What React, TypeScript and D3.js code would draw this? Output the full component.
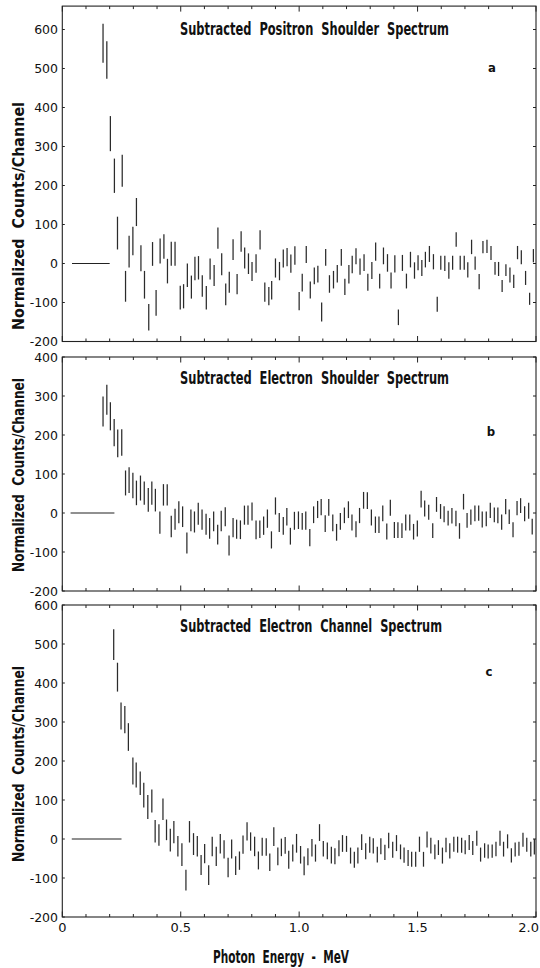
import * as d3 from "d3";
import { useRef, useEffect } from "react";

// [energy MeV, low, high] for each channel
const positronShoulder = [
  [0.172, 515, 615], [0.188, 474, 570], [0.203, 288, 378], [0.220, 181, 269], [0.233, 36, 120], [0.253, 197, 279],
  [0.267, -98, -19], [0.282, -10, 71], [0.298, 21, 94], [0.313, 96, 168], [0.332, -20, 47], [0.347, -90, -19],
  [0.365, -172, -104], [0.381, -6, 55], [0.396, -134, -68], [0.413, 0, 64], [0.429, 12, 75], [0.444, -51, 12],
  [0.460, -6, 56], [0.476, -6, 56], [0.498, -118, -57], [0.512, -115, -53], [0.528, -60, 0], [0.545, -90, -31],
  [0.560, -43, 17], [0.575, -41, 19], [0.591, -85, -30], [0.608, -118, -58], [0.624, -41, 13], [0.641, -58, -4],
  [0.657, 38, 92], [0.673, -30, 26], [0.690, -107, -51], [0.705, -75, -21], [0.721, 9, 62], [0.738, -79, -27],
  [0.755, 30, 83], [0.770, -13, 41], [0.786, -27, 26], [0.801, -45, 4], [0.818, -24, 24], [0.835, 36, 85],
  [0.855, -98, -49], [0.872, -107, -60], [0.884, -92, -45], [0.900, -36, 13], [0.917, -43, 4], [0.933, -10, 36],
  [0.949, -7, 40], [0.965, -24, 23], [0.982, -3, 44], [1.000, -120, -73], [1.013, -72, -26], [1.030, 1, 45],
  [1.047, -90, -46], [1.064, -53, -10], [1.079, -49, -6], [1.095, -149, -100], [1.112, -6, 37], [1.128, -75, -30],
  [1.145, -64, -19], [1.161, -49, -4], [1.178, -6, 37], [1.193, -81, -39], [1.210, -51, -4], [1.224, -25, 20],
  [1.240, -2, 39], [1.257, -29, 13], [1.274, -19, 24], [1.290, -70, -26], [1.307, -40, 4], [1.323, 7, 54],
  [1.340, -64, -26], [1.356, -2, 41], [1.373, -21, 24], [1.388, -64, -23], [1.404, -23, 21], [1.419, -158, -118],
  [1.436, -19, 22], [1.453, -64, -26], [1.470, -10, 30], [1.487, -39, 3], [1.502, -17, 21], [1.518, -32, 9],
  [1.533, -10, 30], [1.550, 4, 45], [1.567, -15, 24], [1.583, -124, -85], [1.598, -16, 20], [1.615, -19, 20],
  [1.632, -39, 3], [1.648, -16, 20], [1.663, 43, 80], [1.680, -16, 20], [1.697, -16, 20], [1.712, -36, 3],
  [1.728, 24, 61], [1.743, -16, 18], [1.760, -66, -27], [1.776, 26, 58], [1.793, 27, 61], [1.810, 9, 45],
  [1.827, -29, 4], [1.842, -32, 4], [1.857, -73, -42], [1.873, -32, -2], [1.890, -49, -10], [1.906, -63, -29],
  [1.922, 11, 45], [1.938, -2, 34], [1.956, -55, -19], [1.973, -106, -75], [1.989, 3, 37],
];

const electronShoulder = [
  [0.172, 222, 299], [0.188, 252, 329], [0.203, 212, 284], [0.219, 171, 241], [0.234, 143, 214], [0.251, 147, 215],
  [0.267, 45, 109], [0.282, 51, 117], [0.298, 38, 103], [0.313, 20, 83], [0.330, 32, 96], [0.346, 21, 81],
  [0.363, 3, 64], [0.378, 21, 81], [0.393, 4, 62], [0.412, -53, 4], [0.427, 19, 74], [0.443, 19, 74],
  [0.460, -62, -7], [0.476, -43, 11], [0.492, -26, 30], [0.508, -36, 17], [0.526, -104, -50], [0.543, -47, 9],
  [0.558, -50, 4], [0.574, -30, 26], [0.590, -43, 9], [0.607, -56, -2], [0.622, -66, -13], [0.639, -47, 4],
  [0.656, -81, -30], [0.671, -47, 6], [0.688, -34, 15], [0.704, -109, -58], [0.721, -62, -13], [0.736, -66, -17],
  [0.752, -67, -19], [0.769, -30, 19], [0.784, -30, 19], [0.801, -19, 27], [0.818, -67, -19], [0.834, -64, -19],
  [0.850, -56, -9], [0.866, -38, 9], [0.883, -91, -47], [0.900, -4, 40], [0.916, -49, 0], [0.933, -56, -10],
  [0.948, -32, 13], [0.963, -81, -38], [0.980, -43, 3], [0.997, -41, 4], [1.013, -43, 0], [1.028, -43, 4],
  [1.045, -85, -41], [1.061, -26, 17], [1.078, -13, 31], [1.093, -6, 36], [1.110, -49, -6], [1.125, -7, 36],
  [1.142, -47, -4], [1.158, -71, -28], [1.174, -43, 0], [1.191, -26, 14], [1.208, -13, 30], [1.223, -45, -4],
  [1.240, -62, -21], [1.255, -26, 13], [1.272, 11, 54], [1.288, 10, 53], [1.305, -32, 9], [1.322, -51, -9],
  [1.337, -51, -9], [1.353, -21, 19], [1.370, -68, -27], [1.385, -7, 34], [1.402, -64, -23], [1.417, -64, -24],
  [1.434, -64, -26], [1.450, -45, -4], [1.467, -45, -4], [1.483, -68, -28], [1.499, -60, -19], [1.515, 14, 57],
  [1.530, -9, 32], [1.547, -17, 21], [1.564, -64, -26], [1.580, 3, 41], [1.597, -15, 23], [1.612, -24, 17],
  [1.629, -32, 6], [1.645, -27, 13], [1.662, -34, 6], [1.677, -66, -26], [1.694, 9, 49], [1.709, -38, 0],
  [1.725, -30, 9], [1.742, -21, 19], [1.758, -20, 19], [1.773, -37, 4], [1.790, -34, 4], [1.807, -13, 26],
  [1.824, -24, 14], [1.839, -26, 14], [1.855, -43, -4], [1.872, -3, 36], [1.887, -28, 9], [1.903, -62, -24],
  [1.920, -6, 31], [1.935, 0, 38], [1.952, -21, 17], [1.969, -15, 26], [1.984, -55, -15],
];

const electronChannel = [
  [0.217, 459, 538], [0.233, 378, 452], [0.248, 281, 350], [0.264, 271, 341], [0.279, 226, 297], [0.298, 140, 209],
  [0.312, 132, 196], [0.329, 113, 173], [0.344, 81, 144], [0.361, 51, 113], [0.378, 68, 127], [0.392, -9, 49],
  [0.408, -17, 38], [0.425, 49, 104], [0.440, -3, 50], [0.456, -32, 26], [0.471, -11, 46], [0.488, -45, 8],
  [0.505, -69, -11], [0.522, -132, -79], [0.537, -9, 46], [0.554, -41, 15], [0.570, -45, 8], [0.586, -92, -41],
  [0.601, -62, -13], [0.618, -118, -67], [0.633, -44, 6], [0.650, -69, -20], [0.667, -37, 13], [0.683, -50, -3],
  [0.700, -98, -48], [0.715, -50, -1], [0.732, -92, -44], [0.748, -79, -32], [0.763, -38, 9], [0.780, -4, 43],
  [0.795, -30, 17], [0.812, -44, 6], [0.828, -78, -32], [0.844, -43, 3], [0.861, -43, 2], [0.876, -82, -37],
  [0.893, -18, 30], [0.910, -67, -22], [0.925, -44, 1], [0.941, -38, 5], [0.956, -76, -30], [0.973, -58, -14],
  [0.989, -35, 13], [1.006, -63, -18], [1.021, -93, -45], [1.037, -67, -24], [1.054, -45, 0], [1.069, -58, -14],
  [1.086, -5, 38], [1.102, -45, -5], [1.119, -52, -9], [1.136, -63, -20], [1.151, -65, -24], [1.168, -44, -3],
  [1.183, -33, 10], [1.200, -33, 8], [1.217, -63, -22], [1.233, -74, -33], [1.248, -63, -22], [1.264, -28, 12],
  [1.281, -52, -11], [1.298, -35, 6], [1.313, -37, 2], [1.330, -60, -20], [1.345, -39, 2], [1.362, -54, -15],
  [1.378, -24, 16], [1.395, -48, -7], [1.411, -31, 10], [1.428, -52, -14], [1.443, -61, -22], [1.460, -69, -28],
  [1.475, -71, -33], [1.492, -71, -33], [1.508, -33, 6], [1.525, -71, -33], [1.540, -22, 19], [1.556, -37, 3],
  [1.573, -52, -14], [1.588, -41, -3], [1.605, -63, -22], [1.620, -34, 3], [1.636, -50, -11], [1.653, -33, 6],
  [1.669, -35, 6], [1.686, -35, 3], [1.701, -39, -3], [1.718, -28, 10], [1.733, -41, -5], [1.750, -17, 21],
  [1.766, -58, -22], [1.783, -48, -11], [1.798, -50, -14], [1.815, -48, -14], [1.831, -44, -7], [1.848, -17, 21],
  [1.863, -45, -7], [1.880, -24, 12], [1.896, -60, -24], [1.912, -45, -9], [1.928, -43, -7], [1.945, -20, 16],
  [1.961, -33, 3], [1.978, -45, -7], [1.993, -40, 0],
];

// flat zero segment below threshold [from, to] MeV
const positronZero = [0.041, 0.2];
const electronZero = [0.035, 0.22];
const channelZero = [0.04, 0.25];

const titles = [
  "Subtracted  Positron  Shoulder  Spectrum",
  "Subtracted  Electron  Shoulder  Spectrum",
  "Subtracted  Electron  Channel  Spectrum",
];
const letters = ["a", "b", "c"];
const yTicksA = [-200, -100, 0, 100, 200, 300, 400, 500, 600];
const yTicksB = [-200, -100, 0, 100, 200, 300, 400];
const yTicksC = [-200, -100, 0, 100, 200, 300, 400, 500, 600];
const xTickLabels = [0, 0.5, 1.0, 1.5, 2.0];

const W = 540, H = 968;
const ink = "#222";
const narrow = "'Liberation Sans Narrow', 'DejaVu Sans Condensed', 'Roboto Condensed', sans-serif";
const plain = "'DejaVu Sans', 'Liberation Sans', sans-serif";

function App() {
  const ref = useRef(null);

  useEffect(() => {
    const svg = d3.select(ref.current);
    svg.selectAll("*").remove();

    const x = d3.scaleLinear().domain([0, 2]).range([62.3, 536]);

    const layout = [
      { data: positronShoulder, zero: positronZero, ticks: yTicksA, dom: [-200, 660], rng: [341.5, 6.1],
        titleY: 35, titleLen: 269, letterX: 492, letterY: 72, ytY: 216, ytLen: 228 },
      { data: electronShoulder, zero: electronZero, ticks: yTicksB, dom: [-200, 400], rng: [591, 357],
        titleY: 384, titleLen: 269, letterX: 491, letterY: 436, ytY: 475, ytLen: 194 },
      { data: electronChannel, zero: channelZero, ticks: yTicksC, dom: [-200, 600], rng: [917, 605],
        titleY: 632, titleLen: 262, letterX: 489, letterY: 676, ytY: 764, ytLen: 196 },
    ];

    layout.forEach((p, i) => {
      const y = d3.scaleLinear().domain(p.dom).range(p.rng);
      const g = svg.append("g");
      const top = y(p.dom[1]), bot = y(p.dom[0]);
      const x0 = x(0), x1 = x(2);

      // frame
      g.append("rect")
        .attr("x", x0).attr("y", top)
        .attr("width", x1 - x0).attr("height", bot - top)
        .attr("fill", "none").attr("stroke", ink).attr("stroke-width", 1.1);

      // x ticks, inward on top and bottom
      const minor = x.ticks(20);
      const major = x.ticks(4);
      minor.forEach((t) => {
        const len = major.some((m) => Math.abs(m - t) < 1e-6) ? 5.5 : 3;
        g.append("line").attr("x1", x(t)).attr("x2", x(t)).attr("y1", bot).attr("y2", bot - len)
          .attr("stroke", ink).attr("stroke-width", 1);
        g.append("line").attr("x1", x(t)).attr("x2", x(t)).attr("y1", top).attr("y2", top + len)
          .attr("stroke", ink).attr("stroke-width", 1);
      });

      // y ticks inward on both sides + labels at left
      p.ticks.forEach((t) => {
        g.append("line").attr("x1", x0).attr("x2", x0 + 2.5).attr("y1", y(t)).attr("y2", y(t))
          .attr("stroke", ink).attr("stroke-width", 1);
        g.append("line").attr("x1", x1).attr("x2", x1 - 3).attr("y1", y(t)).attr("y2", y(t))
          .attr("stroke", ink).attr("stroke-width", 1);
        g.append("text")
          .attr("x", 58).attr("y", y(t)).attr("dy", "0.36em")
          .attr("text-anchor", "end")
          .style("font-family", plain).style("font-size", "12.5px")
          .attr("fill", "#111")
          .text(t);
      });

      // zero segment
      g.append("line")
        .attr("x1", x(p.zero[0])).attr("x2", x(p.zero[1]))
        .attr("y1", y(0)).attr("y2", y(0))
        .attr("stroke", ink).attr("stroke-width", 1.1);

      // error bars
      g.selectAll("line.bar")
        .data(p.data)
        .enter()
        .append("line")
        .attr("class", "bar")
        .attr("x1", (d) => x(d[0])).attr("x2", (d) => x(d[0]))
        .attr("y1", (d) => y(d[1])).attr("y2", (d) => y(d[2]))
        .attr("stroke", "#2b2b2b").attr("stroke-width", 1.25);

      // title
      g.append("text")
        .attr("x", 180).attr("y", p.titleY)
        .attr("textLength", p.titleLen).attr("lengthAdjust", "spacingAndGlyphs")
        .style("font-family", narrow).style("font-size", "17px").style("font-weight", "bold")
        .style("white-space", "pre")
        .attr("fill", "#111")
        .text(titles[i]);

      // panel letter
      g.append("text")
        .attr("x", p.letterX).attr("y", p.letterY)
        .attr("text-anchor", "middle")
        .style("font-family", narrow).style("font-size", "13px").style("font-weight", "bold")
        .attr("fill", "#111")
        .text(letters[i]);

      // y title
      g.append("text")
        .attr("transform", `translate(23.5, ${p.ytY}) rotate(-90)`)
        .attr("text-anchor", "middle")
        .attr("textLength", p.ytLen).attr("lengthAdjust", "spacingAndGlyphs")
        .style("font-family", narrow).style("font-size", "15px").style("font-weight", "bold")
        .style("white-space", "pre")
        .attr("fill", "#111")
        .text("Normalized  Counts/Channel");

      if (i === 2) {
        xTickLabels.forEach((t) => {
          const last = t === 2;
          svg.append("text")
            .attr("x", last ? 539 : x(t)).attr("y", 932)
            .attr("text-anchor", last ? "end" : "middle")
            .style("font-family", plain).style("font-size", "13px")
            .attr("fill", "#111")
            .text(t === 0 ? "0" : t.toFixed(1));
        });
      }
    });

    // x axis title
    svg.append("text")
      .attr("x", 213).attr("y", 963)
      .attr("textLength", 136).attr("lengthAdjust", "spacingAndGlyphs")
      .style("font-family", narrow).style("font-size", "17px").style("font-weight", "bold")
      .style("white-space", "pre")
      .attr("fill", "#111")
      .text("Photon  Energy  -  MeV");
  }, []);

  return (
    <svg ref={ref} width={W} height={H}
      style={{ position: "absolute", left: 0, top: 0, background: "#fff" }} />
  );
}

export default App;
